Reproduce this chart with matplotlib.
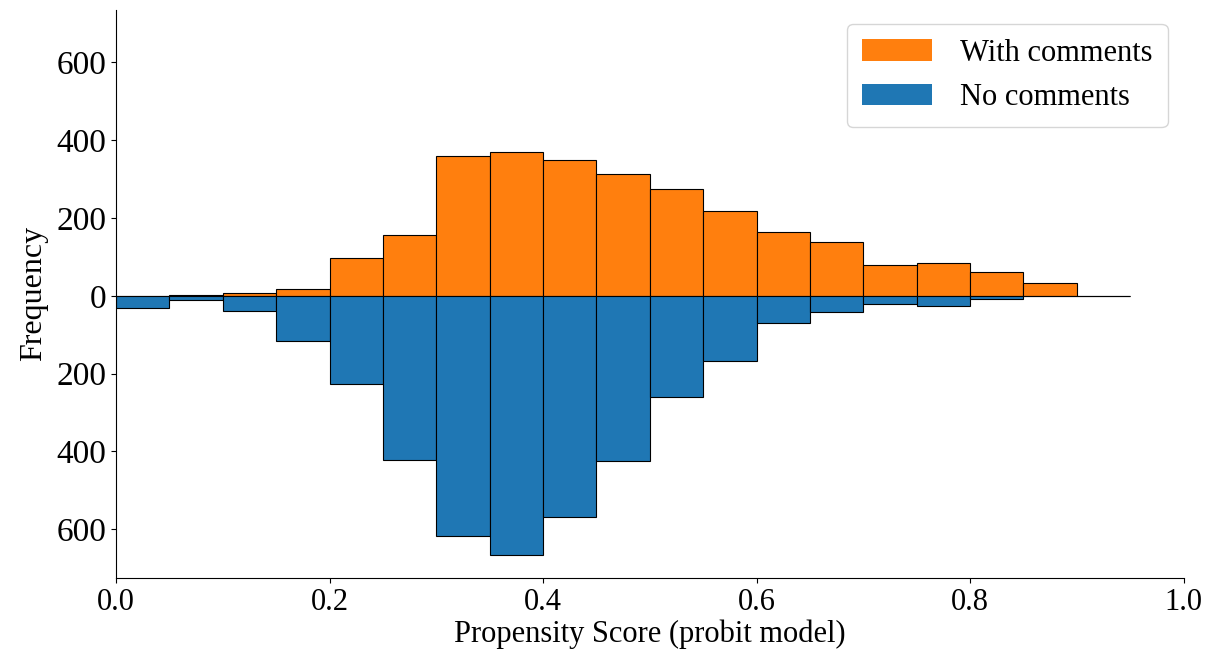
import numpy as np
import matplotlib as mpl
import matplotlib.pyplot as plt
from matplotlib.ticker import FuncFormatter

mpl.use('Agg')

plt.rcParams['font.family'] = ['Liberation Serif', 'DejaVu Serif']

# bin left edges (width 0.05) and counts per group
bin_left = [0.00, 0.05, 0.10, 0.15, 0.20, 0.25, 0.30, 0.35, 0.40, 0.45,
            0.50, 0.55, 0.60, 0.65, 0.70, 0.75, 0.80, 0.85, 0.90]
with_comments = [0, 3, 7, 18, 98, 157, 360, 370, 348, 314,
                 274, 219, 165, 138, 79, 85, 62, 32, 0]
no_comments = [30, 11, 38, 115, 226, 421, 618, 667, 569, 425,
               259, 167, 69, 42, 21, 26, 8, 0, 0]

fig = plt.figure(figsize=(12.09, 6.59), dpi=100)
ax = fig.add_axes([0.096, 0.123, 0.883, 0.862])

ax.bar(bin_left, with_comments, width=0.05, align='edge', color='#ff7f0e',
       edgecolor='black', linewidth=0.8, label='With comments')
ax.bar(bin_left, -np.array(no_comments), width=0.05, align='edge', color='#1f77b4',
       edgecolor='black', linewidth=0.8, label='No comments')

ax.set_xlim(0, 1.0)
ax.set_ylim(-725, 735)
ax.set_yticks([-600, -400, -200, 0, 200, 400, 600])
ax.yaxis.set_major_formatter(FuncFormatter(lambda v, p: '%d' % abs(v)))
ax.set_xticks([0.0, 0.2, 0.4, 0.6, 0.8, 1.0])
ax.tick_params(axis='y', labelsize=24)
ax.tick_params(axis='x', labelsize=22)

ax.spines['top'].set_visible(False)
ax.spines['right'].set_visible(False)

ax.set_xlabel('Propensity Score (probit model)', fontsize=22, labelpad=2)
ax.set_ylabel('Frequency', fontsize=23, labelpad=6)

leg = ax.legend(loc='upper right', fontsize=22, handlelength=2.3, handleheight=0.7,
                handletextpad=0.9, borderpad=0.5, labelspacing=0.5,
                borderaxespad=0, bbox_to_anchor=(0.985, 0.976))
for h in leg.legend_handles:
    h.set_edgecolor('none')

plt.savefig('out.png', dpi=100)
